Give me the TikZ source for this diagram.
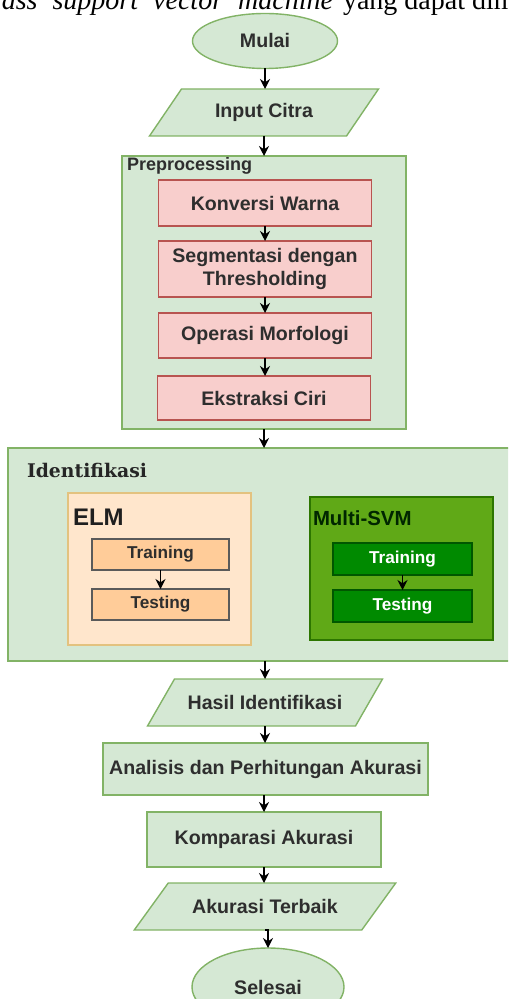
\documentclass[tikz,border=0pt]{standalone}
\usepackage{fontspec}
\setmainfont{Liberation Serif}
\setsansfont{Liberation Sans}
\newfontfamily\titleserif{DejaVu Serif}
\usetikzlibrary{shapes.geometric,arrows.meta,backgrounds}

\definecolor{flowfill}{HTML}{D5E8D4}
\definecolor{flowline}{HTML}{82B366}
\definecolor{pinkfill}{HTML}{F8CECC}
\definecolor{pinkline}{HTML}{B85450}
\definecolor{elmfill}{HTML}{FFE6CC}
\definecolor{elmline}{HTML}{E3C27F}
\definecolor{elmbox}{HTML}{FFCC99}
\definecolor{elmboxline}{HTML}{5A5A5A}
\definecolor{svmfill}{HTML}{60A917}
\definecolor{svmline}{HTML}{2D7600}
\definecolor{svmbox}{HTML}{008A00}
\definecolor{svmboxline}{HTML}{005700}
\definecolor{txt}{HTML}{2E2E2E}

\begin{document}
\begin{tikzpicture}[x=0.5pt,y=-0.5pt,
  every node/.style={inner sep=0pt, outer sep=0pt},
  lbl/.style={font=\sffamily\bfseries\fontsize{9.8}{11.6}\selectfont, text=txt, align=center},
  startstop/.style={lbl, ellipse, draw=flowline, fill=flowfill, line width=0.7pt},
  procbox/.style={lbl, rectangle, draw=flowline, fill=flowfill, line width=0.7pt},
  iobox/.style={lbl, rectangle},
  iofill/.style={draw=flowline, fill=flowfill, line width=0.7pt},
  groupbox/.style={rectangle, draw=flowline, fill=flowfill, line width=0.7pt},
  pinkbox/.style={lbl, rectangle, draw=pinkline, fill=pinkfill, line width=0.7pt, minimum width=106.5pt},
  elmgroup/.style={rectangle, draw=elmline, fill=elmfill, line width=0.7pt},
  elmstep/.style={lbl, font=\sffamily\bfseries\fontsize{8.6}{10}\selectfont, rectangle, draw=elmboxline, fill=elmbox, line width=0.6pt, minimum width=68.5pt, minimum height=15.5pt},
  svmgroup/.style={rectangle, draw=svmline, fill=svmfill, line width=0.7pt},
  svmstep/.style={lbl, font=\sffamily\bfseries\fontsize{8.6}{10}\selectfont, text=white, rectangle, draw=svmboxline, fill=svmbox, line width=0.6pt, minimum width=69.5pt, minimum height=16pt},
  flow/.style={-{Stealth[length=5pt,width=5pt]}, line width=0.65pt, black}
]
\useasboundingbox (0,0) rectangle (508,999);
\clip (0,0) rectangle (508,999);

% running text line above the chart
\node[anchor=base east, font=\fontsize{14}{16}\selectfont\itshape, text=black]
  (lineA) at (333,10) {\spaceskip=7.5pt multiclass support vector machine};
\node[anchor=base west, font=\fontsize{14}{16}\selectfont, text=black]
  (lineB) at (343,10) {yang dapat dimana};

% start
\node[startstop, minimum width=72.5pt, minimum height=27.5pt] (mulai) at (265,41) {Mulai};

% input
\node[iobox, minimum width=98.5pt, minimum height=23.5pt] (input) at (264,112.5) {Input Citra};

% preprocessing group
\node[groupbox, minimum width=142pt, minimum height=136.5pt] (pre) at (264,292.5) {};
\node[lbl, font=\sffamily\bfseries\fontsize{9}{11}\selectfont, anchor=west] (prelbl) at (127,166) {Preprocessing};
\node[pinkbox, minimum height=23pt] (konv) at (265,203) {Konversi Warna};
\node[pinkbox, minimum height=28pt] (segm) at (265,269) {Segmentasi dengan\\Thresholding};
\node[pinkbox, minimum height=22.5pt] (morf) at (265,335.5) {Operasi Morfologi};
\node[pinkbox, minimum height=22pt] (ciri) at (264,398) {Ekstraksi Ciri};

% identification group
\node[groupbox, minimum width=252pt, minimum height=106.5pt] (iden) at (260,554.5) {};
\node[anchor=base west, font=\titleserif\bfseries\fontsize{9.4}{11}\selectfont, text=black!85] (idenlbl) at (27,477) {Identifikasi};

\node[elmgroup, minimum width=91.5pt, minimum height=76pt] (elm) at (159.5,569) {};
\node[lbl, font=\sffamily\bfseries\fontsize{12}{14}\selectfont, text=black!88, anchor=west] (elmlbl) at (73,517) {ELM};
\node[elmstep] (elmtrain) at (160.5,554.5) {Training};
\node[elmstep] (elmtest) at (160.5,604.5) {Testing};

\node[svmgroup, minimum width=91.5pt, minimum height=71.5pt] (svm) at (401.5,568.5) {};
\node[lbl, font=\sffamily\bfseries\fontsize{10.2}{12}\selectfont, text=black!85!green, anchor=west] (svmlbl) at (313,518) {Multi-SVM};
\node[svmstep] (svmtrain) at (402.5,559) {Training};
\node[svmstep] (svmtest) at (402.5,606) {Testing};

% results and evaluation
\node[iobox, minimum width=104pt, minimum height=23.5pt] (hasil) at (265,702.5) {Hasil Identifikasi};
\node[procbox, minimum width=162.5pt, minimum height=26pt] (anal) at (265.5,769) {Analisis dan Perhitungan Akurasi};
\node[procbox, minimum width=117pt, minimum height=27.5pt] (komp) at (264,839.5) {Komparasi Akurasi};
\node[iobox, minimum width=113.75pt, minimum height=23.5pt] (best) at (265,906.5) {Akurasi Terbaik};

% end
\node[startstop, minimum width=76pt, minimum height=39pt] (selesai) at (268,987) {Selesai};

% parallelogram outlines behind the input/output texts
\begin{pgfonlayer}{background}
  \path[iofill] ([xshift=8pt]input.north west) -- ([xshift=8pt]input.north east)
    -- ([xshift=-8pt]input.south east) -- ([xshift=-8pt]input.south west) -- cycle;
  \path[iofill] ([xshift=6.75pt]hasil.north west) -- ([xshift=6.75pt]hasil.north east)
    -- ([xshift=-6.75pt]hasil.south east) -- ([xshift=-6.75pt]hasil.south west) -- cycle;
  \path[iofill] ([xshift=8.5pt]best.north west) -- ([xshift=8.5pt]best.north east)
    -- ([xshift=-8.5pt]best.south east) -- ([xshift=-8.5pt]best.south west) -- cycle;
\end{pgfonlayer}

% connectors
\draw[flow] (mulai.south) -- (mulai.south |- input.north);
\draw[flow] (input.south) -- (input.south |- pre.north);
\draw[flow] (konv.south) -- (konv.south |- segm.north);
\draw[flow] (segm.south) -- (segm.south |- morf.north);
\draw[flow] (morf.south) -- (morf.south |- ciri.north);
\draw[flow] (pre.south) -- (pre.south |- iden.north);
\draw[flow] (elmtrain.south) -- (elmtest.north);
\draw[flow] (svmtrain.south) -- (svmtest.north);
\draw[flow] (iden.south -| hasil.north) -- (hasil.north);
\draw[flow] (hasil.south) -- (hasil.south |- anal.north);
\draw[flow] (anal.south -| komp.north) -- (komp.north);
\draw[flow] (komp.south) -- (komp.south |- best.north);
\draw[flow] (best.south) -- (best.south -| selesai.north) -- (selesai.north);
\end{tikzpicture}
\end{document}
